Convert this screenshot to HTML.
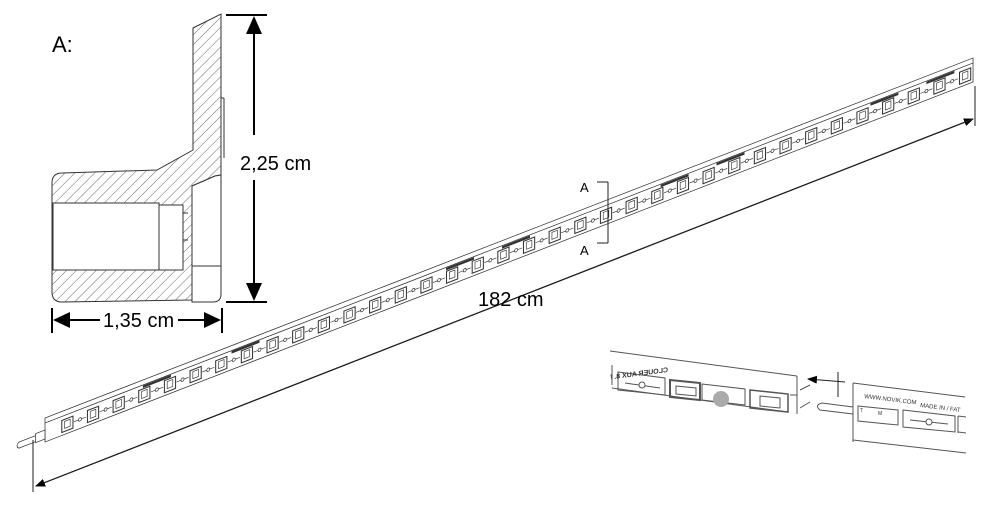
<!DOCTYPE html>
<html><head><meta charset="utf-8"><style>
html,body{margin:0;padding:0;background:#fff;}
svg{display:block;font-family:"Liberation Sans",Arial,sans-serif;}
</style></head><body>
<svg width="1000" height="515" viewBox="0 0 1000 515" xmlns="http://www.w3.org/2000/svg">
<defs>
<pattern id="h" width="7" height="7" patternUnits="userSpaceOnUse" patternTransform="rotate(45)">
<line x1="0" y1="0" x2="0" y2="7" stroke="#444" stroke-width="0.8"/>
</pattern>
<marker id="ar" markerWidth="10" markerHeight="8" refX="9" refY="4" orient="auto" markerUnits="userSpaceOnUse">
<path d="M0,0 L10,4 L0,8 z" fill="#000"/>
</marker>
</defs>

<!-- Section A -->
<text x="52" y="52" font-size="22">A:</text>
<path d="M193,28 L221,14 L221,175 L215,176 L192,186 L192,300 L62,302 Q52,302 52,292 L52,183 Q52,173 62,173 L157,170 L193,150 Z" fill="url(#h)" stroke="#333" stroke-width="1"/>
<rect x="53" y="203" width="106" height="67" fill="#fff" stroke="#333"/>
<rect x="159" y="205" width="24" height="65" fill="#fff" stroke="#333"/>
<line x1="183" y1="213" x2="188" y2="213" stroke="#333"/>
<line x1="183" y1="240" x2="188" y2="240" stroke="#333"/>
<path d="M192,186 L215,176 L221,175 L221,294 Q221,302 213,302 L192,302 Z" fill="#fff" stroke="#333"/>
<line x1="192" y1="266" x2="221" y2="266" stroke="#333"/>
<line x1="221" y1="98" x2="224" y2="98" stroke="#333"/>
<line x1="224" y1="98" x2="224" y2="158" stroke="#333"/>
<line x1="226" y1="15" x2="267" y2="15" stroke="#000" stroke-width="2"/>
<line x1="226" y1="302" x2="267" y2="302" stroke="#000" stroke-width="2"/>
<line x1="254" y1="28" x2="254" y2="135" stroke="#000" stroke-width="2"/>
<line x1="254" y1="180" x2="254" y2="290" stroke="#000" stroke-width="2"/>
<path d="M254,16 L246,34 L262,34 Z" fill="#000"/>
<path d="M254,301 L246,283 L262,283 Z" fill="#000"/>
<text x="240" y="170" font-size="20">2,25 cm</text>
<line x1="52" y1="308" x2="52" y2="333" stroke="#000" stroke-width="2"/>
<line x1="222" y1="308" x2="222" y2="333" stroke="#000" stroke-width="2"/>
<line x1="60" y1="320" x2="100" y2="320" stroke="#000" stroke-width="2"/>
<line x1="178" y1="320" x2="215" y2="320" stroke="#000" stroke-width="2"/>
<path d="M53,320 L70,312 L70,328 Z" fill="#000"/>
<path d="M221,320 L204,312 L204,328 Z" fill="#000"/>
<text x="103" y="327" font-size="20">1,35 cm</text>

<!-- Long bar -->
<g transform="matrix(0.9327,-0.3618,0,1,45,418)" stroke="#333" stroke-width="0.8" fill="none">
<path d="M0,0 L995,0 L995,24 L0,24 Z" fill="#fff"/>
<line x1="0" y1="5" x2="995" y2="5"/>
<path d="M-10,14 L-28,14 Q-32,17 -28,20 L-10,20" fill="#fff"/>
<rect x="-10" y="12" width="10" height="9" fill="#fff"/>
</g>
<g id="slots" transform="matrix(0.9327,-0.3618,0,1,45,418)" stroke="#333" stroke-width="0.7" fill="none"></g>

<!-- Dimension 182 -->
<line x1="33" y1="440" x2="33" y2="492" stroke="#222" stroke-width="1"/>
<line x1="975" y1="86" x2="975" y2="126" stroke="#222" stroke-width="1"/>
<line x1="36" y1="486" x2="973" y2="119" stroke="#222" stroke-width="1.2" marker-end="url(#ar)"/>
<line x1="973" y1="119" x2="36" y2="486" stroke="#222" stroke-width="1.2" marker-end="url(#ar)"/>
<text x="478" y="306" font-size="20">182 cm</text>

<!-- Section marks -->
<line x1="608" y1="182" x2="608" y2="243" stroke="#222"/>
<line x1="597" y1="182" x2="608" y2="182" stroke="#222"/>
<line x1="597" y1="243" x2="608" y2="243" stroke="#222"/>
<text x="580" y="192" font-size="13">A</text>
<text x="580" y="255" font-size="13">A</text>

<!-- Inset -->
<g stroke="#555" stroke-width="1" fill="none">
<line x1="610" y1="351" x2="797" y2="376"/>
<line x1="797" y1="376" x2="797" y2="414"/>
<line x1="612" y1="365" x2="612" y2="385"/>
<path d="M618,372 L665,378 L665,395 L618,390 Z"/>
<line x1="625" y1="383" x2="660" y2="388"/>
<circle cx="642" cy="385" r="3" fill="#fff"/>
<path d="M670,380 L700,383 L700,400 L670,397 Z" stroke-width="2"/>
<path d="M676,386 L696,388 L696,396 L676,394 Z"/>
<path d="M702,384 L745,389 L745,405 L702,400 Z"/>
<path d="M750,390 L788,394 L788,412 L750,408 Z" stroke-width="1.5"/>
<path d="M760,396 L780,398 L780,408 L760,406 Z"/>
<line x1="790" y1="395" x2="797" y2="395"/>
<line x1="612" y1="388" x2="788" y2="412"/>
<path d="M800,390 L810,385 M800,408 L810,402"/>
<line x1="845" y1="382" x2="808" y2="379" stroke="#222" marker-end="url(#ar)"/>
<line x1="838" y1="372" x2="838" y2="397" stroke="#222"/>
<path d="M853,407 L822,403 Q814,405 820,410 L853,414"/>
<line x1="853" y1="383" x2="965" y2="397"/>
<line x1="853" y1="383" x2="853" y2="442"/>
<path d="M858,406 L898,410 L898,425 L858,421 Z"/>
<path d="M903,410 L955,416 L955,432 L903,427 Z"/>
<line x1="910" y1="420" x2="948" y2="424"/>
<circle cx="929" cy="422" r="3" fill="#fff"/>
<path d="M958,416 L966,417 M958,432 L966,433 M958,416 L958,433"/>
<line x1="853" y1="440" x2="966" y2="453"/>
</g>
<circle cx="721" cy="399" r="8" fill="#aaa"/>
<text x="0" y="0" font-size="7" font-weight="bold" fill="#333" transform="matrix(-1,0.13,0,1,668,372)">CLOUER AUX 8. /</text>
<text x="864" y="398" font-size="6" fill="#333" transform="rotate(7 864 398)">WWW.NOVIK.COM</text>
<text x="920" y="407" font-size="6" fill="#333" transform="rotate(7 920 407)">MADE IN / FAT</text>
<text x="860" y="412" font-size="5" fill="#333">T</text>
<text x="878" y="415" font-size="5" fill="#333">M</text>
</svg>
<script>
var g=document.getElementById('slots'),s='';
for(var x=18;x<985;x+=27.5){
 s+='<rect x="'+x+'" y="9" width="12" height="12" stroke-width="1.1" fill="#fff"/>';
 s+='<rect x="'+(x+3)+'" y="11" width="6" height="7"/>';
 if(x+26<990){
 s+='<line x1="'+(x+13)+'" y1="15" x2="'+(x+26)+'" y2="15"/>';
 s+='<circle cx="'+(x+19.5)+'" cy="15" r="1.6" fill="#fff"/>';}
}
var lab=[105,200,430,490,660,720,885,945];
for(var i=0;i<lab.length;i++){s+='<rect x="'+lab[i]+'" y="5.5" width="30" height="2.5" fill="#333" stroke="none"/>';}
g.innerHTML=s;
</script>
</body></html>
